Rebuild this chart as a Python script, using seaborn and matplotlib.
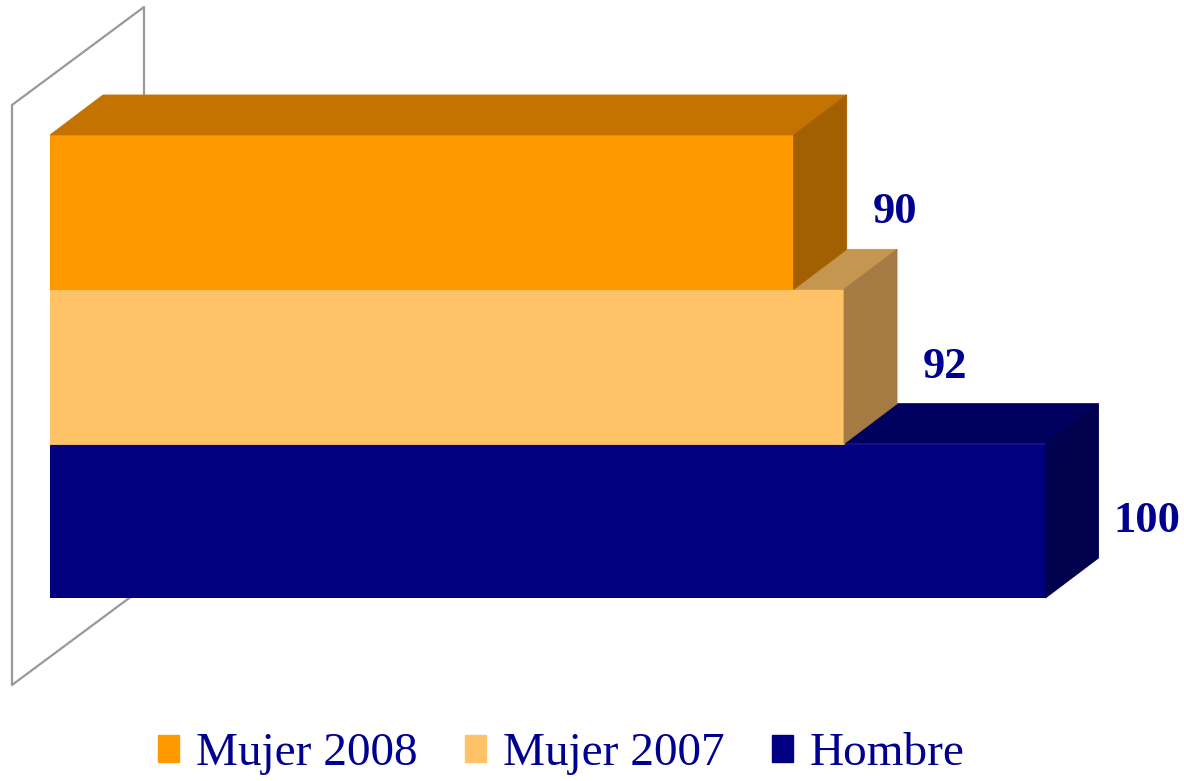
import matplotlib
matplotlib.use("Agg")
import matplotlib.pyplot as plt
import matplotlib.patches as mpatches
from matplotlib.lines import Line2D
import numpy as np
import pandas as pd
import seaborn as sns

# Data
groups = ["Mujer 2008", "Mujer 2007", "Hombre"]
values = [90, 92, 100]

# Face colours per group: front, top, side
front_colors = ["#FF9900", "#FFC266", "#000080"]
top_colors = ["#C47300", "#C4964F", "#00005E"]
side_colors = ["#A36000", "#A57B43", "#00004C"]
text_color = "#000090"

sns.set_theme(style="white")
plt.rcParams["font.family"] = ["Liberation Serif", "DejaVu Serif"]

W, H = 1184, 781
fig = plt.figure(figsize=(W / 100, H / 100), dpi=100)
fig.patch.set_facecolor("white")

# axes area holds the front faces of the bars
ax = fig.add_axes([50 / W, 1 - 598 / H, 1134 / W, (598 - 135) / H])
ax.set_facecolor("none")

df = pd.DataFrame({"grupo": groups, "valor": values})
sns.barplot(data=df, x="valor", y="grupo", hue="grupo", order=groups,
            hue_order=groups, palette=front_colors, orient="h", width=1.0,
            dodge=False, saturation=1, legend=False, linewidth=0, ax=ax)

ax.set_xlim(60.47, 105.5)
ax.set_ylim(2.5, -0.5)
ax.set_xlabel("")
ax.set_ylabel("")
ax.set_xticks([])
ax.set_yticks([])
for s in ax.spines.values():
    s.set_visible(False)

fig.canvas.draw()

# depth offset of the 3D extrusion, in pixels
DX, DY = 53, 40
to_fig = fig.transFigure.inverted()


def disp(x, y):
    return ax.transData.transform((x, y))


def face(points, color, z):
    pts = to_fig.transform(np.array(points))
    poly = mpatches.Polygon(pts, closed=True, transform=fig.transFigure,
                            facecolor=color, edgecolor=color, linewidth=0.6,
                            clip_on=False, zorder=z)
    ax.add_patch(poly)


x_left = ax.get_xlim()[0]
n = len(groups)
for bar in ax.patches[:n]:
    yc = bar.get_y() + bar.get_height() / 2
    i = int(round(yc))
    v = values[i]
    z = 3 + (n - i) * 2
    bar.set_zorder(z)
    bar.set_edgecolor(front_colors[i])
    bar.set_linewidth(0.6)
    y_top = bar.get_y()
    y_bot = bar.get_y() + bar.get_height()
    fl_t = disp(x_left, y_top)
    fr_t = disp(v, y_top)
    fr_b = disp(v, y_bot)
    off = np.array([DX, DY])
    face([fl_t, fr_t, fr_t + off, fl_t + off], top_colors[i], z)
    face([fr_t, fr_t + off, fr_b + off, fr_b], side_colors[i], z)

    ax.annotate(str(v), xy=(v, yc), xytext=(73, 0), textcoords="offset points",
                ha="center", va="center", fontsize=32, fontweight="bold",
                color=text_color, annotation_clip=False, zorder=20)

# back wall outline on the left
wall = np.array([(12, 105), (144, 7), (144, 587), (12, 685), (12, 105)], float)
wall_fig = np.column_stack([wall[:, 0] / W, 1 - wall[:, 1] / H])
ax.add_line(Line2D(wall_fig[:, 0], wall_fig[:, 1], transform=fig.transFigure,
                   color="#999999", linewidth=1.6, clip_on=False, zorder=1))

# legend
handles = [mpatches.Patch(facecolor=c, edgecolor=c) for c in front_colors]
leg = fig.legend(handles, groups, loc="center", bbox_to_anchor=(0.474, 1 - 754 / H),
                 ncol=3, frameon=False, fontsize=34, handlelength=0.45,
                 handleheight=0.5, handletextpad=0.36, columnspacing=1.0,
                 borderaxespad=0)
for t in leg.get_texts():
    t.set_color(text_color)

fig.savefig("out.png", dpi=100, facecolor="white")
